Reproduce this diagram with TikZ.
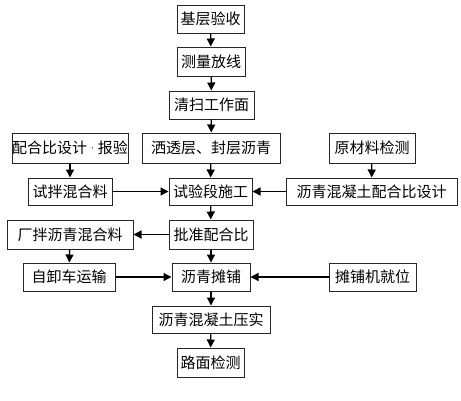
\documentclass[tikz,border=0pt]{standalone}
\usepackage{fontspec}
\newfontfamily\cjk{Noto Sans CJK SC}
\usetikzlibrary{arrows.meta}
\begin{document}
\begin{tikzpicture}[x=1pt,y=-1pt,
  box/.style={draw=black!85,line width=1pt,inner sep=0pt,font=\cjk\fontsize{15}{16}\selectfont,anchor=center},
  arr/.style={line width=1.3pt,-{Triangle[length=8pt,width=8pt]}}]
\useasboundingbox[fill=white] (0,0) rectangle (461,400);
\node[box,minimum width=67pt,minimum height=28pt] (a1) at (210.5,19) {基层验收};
\node[box,minimum width=68pt,minimum height=29pt] (a2) at (211,61.5) {测量放线};
\node[box,minimum width=85pt,minimum height=28pt] (a3) at (211.5,105) {清扫工作面};
\node[box,minimum width=116pt,minimum height=30pt] (b1) at (70,148) {配合比设计{\rmfamily·}报验};
\node[box,minimum width=138pt,minimum height=30pt] (a4) at (211,148) {洒透层、封层沥青};
\node[box,minimum width=86pt,minimum height=30pt] (c1) at (372,148) {原材料检测};
\node[box,minimum width=84pt,minimum height=27pt] (b2) at (70,191.5) {试拌混合料};
\node[box,minimum width=83pt,minimum height=27pt] (a5) at (210.5,191.5) {试验段施工};
\node[box,minimum width=171pt,minimum height=27pt] (c2) at (371.5,191.5) {沥青混凝土配合比设计};
\node[box,minimum width=126pt,minimum height=29pt] (b3) at (70,234.5) {厂拌沥青混合料};
\node[box,minimum width=84pt,minimum height=29pt] (a6) at (211,234.5) {批准配合比};
\node[box,minimum width=92pt,minimum height=28pt] (b4) at (69,277) {自卸车运输};
\node[box,minimum width=78pt,minimum height=28pt] (a7) at (211,277) {沥青摊铺};
\node[box,minimum width=87pt,minimum height=28pt] (c3) at (372.5,277) {摊铺机就位};
\node[box,minimum width=118pt,minimum height=27pt] (a8) at (211,319.5) {沥青混凝土压实};
\node[box,minimum width=67pt,minimum height=29pt] (a9) at (210.5,362.5) {路面检测};
\draw[arr] (a1) -- (a2);
\draw[arr] (a2) -- (a3);
\draw[arr] (a3) -- (a4);
\draw[arr] (a4) -- (a5);
\draw[arr] (a5) -- (a6);
\draw[arr] (a6) -- (a7);
\draw[arr] (a7) -- (a8);
\draw[arr] (a8) -- (a9);
\draw[arr] (b1) -- (b2);
\draw[arr] (c1) -- (c2);
\draw[arr] (b3) -- (b4);
\draw[arr] (b2) -- (a5);
\draw[arr] (c2) -- (a5);
\draw[arr] (a6) -- (b3);
\draw[arr] (b4) -- (a7);
\draw[arr] (c3) -- (a7);
\end{tikzpicture}
\end{document}
